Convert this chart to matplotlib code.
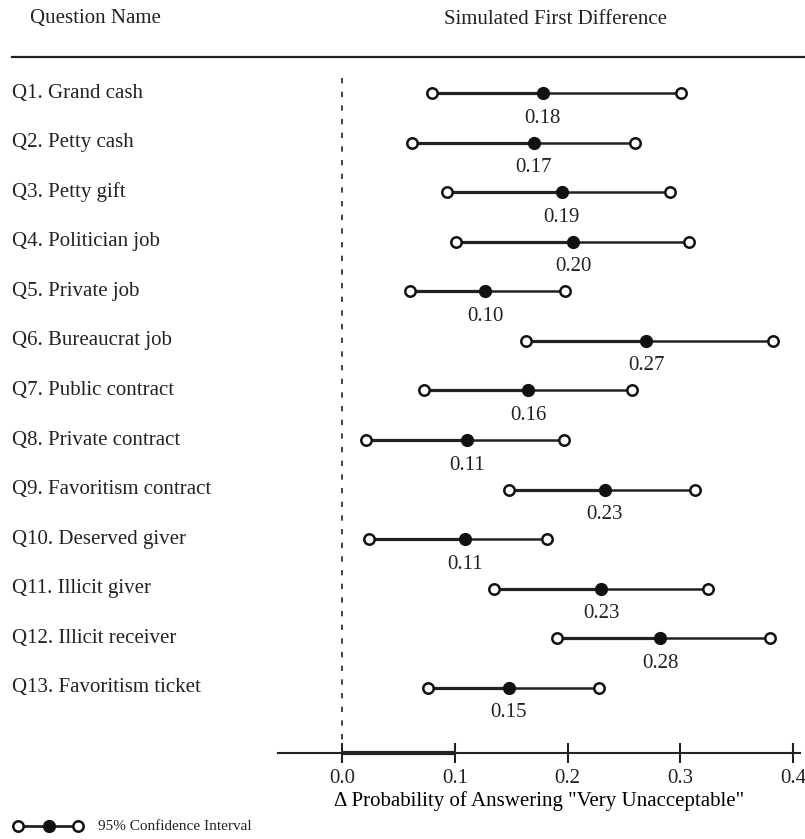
# dot-and-whisker plot of simulated first differences per question

import matplotlib.pyplot as plt
import matplotlib.transforms as mtransforms
from matplotlib.lines import Line2D

plt.rcParams["font.family"] = ["Liberation Serif", "DejaVu Serif"]
plt.rcParams["text.color"] = "#222222"

questions = [
    "Q1. Grand cash",
    "Q2. Petty cash",
    "Q3. Petty gift",
    "Q4. Politician job",
    "Q5. Private job",
    "Q6. Bureaucrat job",
    "Q7. Public contract",
    "Q8. Private contract",
    "Q9. Favoritism contract",
    "Q10. Deserved giver",
    "Q11. Illicit giver",
    "Q12. Illicit receiver",
    "Q13. Favoritism ticket",
]
ci_low = [0.080, 0.062, 0.093, 0.101, 0.060, 0.163, 0.073, 0.021, 0.148, 0.024, 0.135, 0.191, 0.076]
estimate = [0.178, 0.170, 0.195, 0.205, 0.127, 0.270, 0.165, 0.111, 0.233, 0.109, 0.230, 0.282, 0.148]
ci_high = [0.301, 0.260, 0.291, 0.308, 0.198, 0.382, 0.257, 0.197, 0.313, 0.182, 0.325, 0.380, 0.228]
estimate_text = ["0.18", "0.17", "0.19", "0.20", "0.10", "0.27", "0.16",
                 "0.11", "0.23", "0.11", "0.23", "0.28", "0.15"]
xticks = [0.0, 0.1, 0.2, 0.3, 0.4]

W, H = 805, 839
fig = plt.figure(figsize=(W / 100, H / 100), dpi=100)

# axes placed in pixel terms: axis line at y=753, spans x 278..800
ax = fig.add_axes([278 / W, 1 - 753 / H, (800 - 278) / W, (753 - 60) / H])
row_px = 49.58
ax.set_xlim(-0.0568, 0.4062)
ax.set_ylim((753 - 93) / row_px, (60 - 93) / row_px)

for side in ["top", "left", "right"]:
    ax.spines[side].set_visible(False)
ax.spines["bottom"].set_linewidth(1.5)
ax.spines["bottom"].set_color("#222222")
ax.set_yticks([])
ax.set_xticks(xticks)
ax.set_xticklabels([f"{t:.1f}" for t in xticks], fontsize=15)
ax.tick_params(axis="x", direction="inout", length=15, width=1.5, pad=4, colors="#222222")
ax.set_xlabel('\u0394 Probability of Answering "Very Unacceptable"', fontsize=15, labelpad=2)

# thicker piece of axis between 0 and 0.1 as in the original
ax.plot([0.0, 0.1], [ax.get_ylim()[0]] * 2, color="#222222", lw=3,
        clip_on=False, solid_capstyle="butt", zorder=5)

# dashed zero line
ax.plot([0, 0], [(78 - 93) / row_px, ax.get_ylim()[0]], color="#222222",
        lw=1.2, linestyle=(0, (3.2, 5.0)))

label_trans = mtransforms.blended_transform_factory(fig.transFigure, ax.transData)

for i, q in enumerate(questions):
    ax.text(12 / W, i, q, transform=label_trans, fontsize=15, va="center", ha="left")
    ax.plot([ci_low[i], estimate[i]], [i, i], color="#222222", lw=2.3, zorder=2)
    ax.plot([estimate[i], ci_high[i]], [i, i], color="#222222", lw=1.8, zorder=2)
    ax.plot([ci_low[i], ci_high[i]], [i, i], linestyle="none", marker="o",
            markersize=7.5, markerfacecolor="white", markeredgecolor="#111111",
            markeredgewidth=1.8, zorder=3)
    ax.plot(estimate[i], i, marker="o", markersize=8.5, color="#111111", zorder=3)
    ax.annotate(estimate_text[i], (estimate[i], i), xytext=(0, -25),
                textcoords="offset pixels", ha="center", va="center", fontsize=15)

# header
fig.text(95 / W, 1 - 19 / H, "Question Name", fontsize=15, ha="center", va="center")
fig.text(555 / W, 1 - 19 / H, "Simulated First Difference", fontsize=15, ha="center", va="center")
fig.add_artist(Line2D([12 / W, 1.0], [1 - 57 / H] * 2, color="#222222", lw=1.6))

# legend drawn by hand at bottom left
ly = 1 - 826 / H
fig.add_artist(Line2D([18 / W, 78 / W], [ly, ly], color="#222222", lw=2))
fig.add_artist(Line2D([18 / W, 78 / W], [ly, ly], linestyle="none", marker="o",
                      markersize=7.5, markerfacecolor="white", markeredgecolor="#111111",
                      markeredgewidth=1.8))
fig.add_artist(Line2D([49 / W], [ly], linestyle="none", marker="o",
                      markersize=8.5, color="#111111"))
fig.text(98 / W, ly, "95% Confidence Interval", fontsize=11, va="center", ha="left")

plt.savefig("out.png", dpi=100)
plt.close()
